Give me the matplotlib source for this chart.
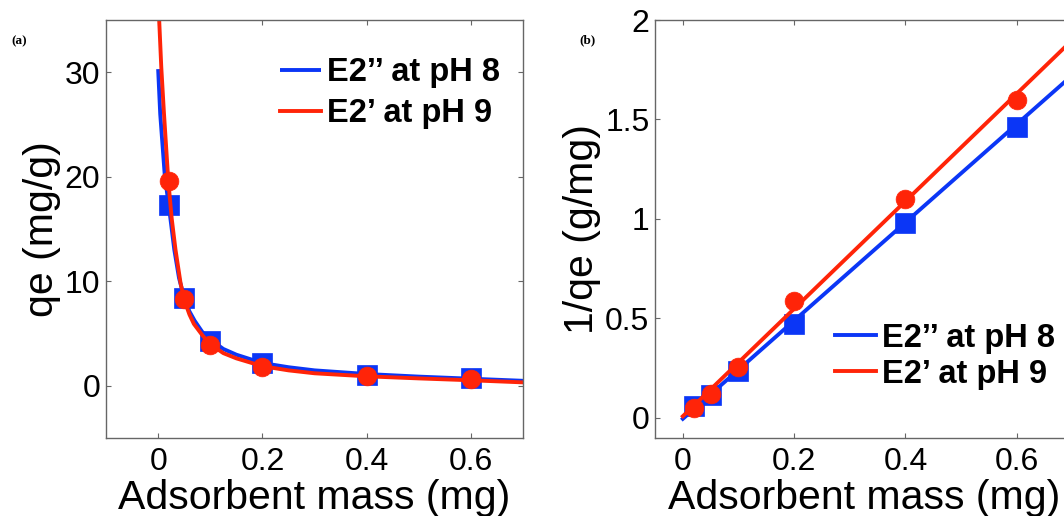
import matplotlib
matplotlib.use("Agg")
import matplotlib.pyplot as plt

# adsorbent mass of each run (mg)
mass = [0.02, 0.05, 0.1, 0.2, 0.4, 0.6]

# equilibrium uptake qe (mg/g)
qe_ph8 = [17.3, 8.4, 4.3, 2.15, 1.02, 0.68]
qe_ph9 = [19.6, 8.25, 3.9, 1.75, 0.91, 0.62]

# linearised form 1/qe (g/mg)
inv_ph8 = [0.059, 0.117, 0.234, 0.473, 0.98, 1.463]
inv_ph9 = [0.050, 0.120, 0.256, 0.585, 1.099, 1.597]

# fitted uptake curves, panel (a)
curve8_m = [0.0, 0.004, 0.0129, 0.02, 0.031, 0.04, 0.05, 0.06, 0.07, 0.085, 0.1, 0.125,
            0.15, 0.2, 0.25, 0.3, 0.4, 0.5, 0.6, 0.7]
curve8_q = [30.3, 26.0, 20.0, 17.4, 13.0, 10.3, 8.4, 7.1, 6.2, 5.1, 4.4, 3.5,
            2.95, 2.15, 1.75, 1.45, 1.1, 0.85, 0.65, 0.45]
curve9_m = [0.0, 0.002, 0.006, 0.011, 0.0195, 0.026, 0.0333, 0.043, 0.05, 0.06, 0.0685,
            0.085, 0.1, 0.125, 0.15, 0.2, 0.25, 0.3, 0.4, 0.5, 0.6, 0.7]
curve9_q = [37.5, 35.0, 30.5, 26.2, 19.6, 16.0, 13.0, 9.8, 8.2, 6.8, 5.9,
            4.8, 3.95, 3.1, 2.6, 1.85, 1.45, 1.17, 0.88, 0.68, 0.5, 0.3]

# linear fits, panel (b)
fit_m = [0.0, 0.7]
fit_ph8 = [-0.005, 1.723]
fit_ph9 = [0.008, 1.90]

labels = ["E2\u2019\u2019 at pH 8", "E2\u2019 at pH 9"]
blue = "#0B36F6"
red = "#FF2408"

plt.rcParams["font.family"] = ["Liberation Sans", "DejaVu Sans"]

fig = plt.figure(figsize=(10.64, 5.16), dpi=100)
ax1 = fig.add_axes([0.0996, 0.1517, 0.3922, 0.8095])
ax2 = fig.add_axes([0.6156, 0.1517, 0.3923, 0.8095])


def style_axes(ax):
    for sp in ax.spines.values():
        sp.set_color("#666666")
        sp.set_linewidth(1.0)
    ax.tick_params(direction="in", top=True, right=True, length=3.5, width=0.8,
                   color="#666666", labelsize=23, labelcolor="black")
    ax.tick_params(axis="x", pad=7)
    ax.tick_params(axis="y", pad=4)


lw = 2.8
legend_font = {"weight": "bold", "size": 23.5}

# panel (a): qe against mass
ax1.plot(curve8_m, curve8_q, color=blue, lw=lw, label=labels[0], solid_capstyle="butt")
ax1.plot(mass, qe_ph8, "s", color=blue, ms=15, mec=blue, mew=0.5)
ax1.plot(curve9_m, curve9_q, color=red, lw=lw, label=labels[1])
ax1.plot(mass, qe_ph9, "o", color=red, ms=13.5, mec=red, mew=0.5)
ax1.set_xlim(-0.1, 0.7)
ax1.set_ylim(-5, 35)
ax1.set_xticks([0, 0.2, 0.4, 0.6])
ax1.set_xticklabels(["0", "0.2", "0.4", "0.6"])
ax1.set_yticks([0, 10, 20, 30])
ax1.set_xlabel("Adsorbent mass (mg)", fontsize=29.5, labelpad=1)
ax1.set_ylabel("qe (mg/g)", fontsize=29.5, labelpad=3)
style_axes(ax1)
ax1.legend(loc="upper right", bbox_to_anchor=(1.0, 0.965), frameon=False,
           prop=legend_font, handlelength=1.25, handletextpad=0.2,
           labelspacing=0.3, borderaxespad=0.3)

# panel (b): 1/qe against mass
ax2.plot(fit_m, fit_ph8, color=blue, lw=lw, label=labels[0])
ax2.plot(mass, inv_ph8, "s", color=blue, ms=15, mec=blue, mew=0.5)
ax2.plot(fit_m, fit_ph9, color=red, lw=lw, label=labels[1])
ax2.plot(mass, inv_ph9, "o", color=red, ms=13.5, mec=red, mew=0.5)
ax2.set_xlim(-0.05, 0.7)
ax2.set_ylim(-0.1, 2)
ax2.set_xticks([0, 0.2, 0.4, 0.6])
ax2.set_xticklabels(["0", "0.2", "0.4", "0.6"])
ax2.set_yticks([0, 0.5, 1, 1.5, 2])
ax2.set_yticklabels(["0", "0.5", "1", "1.5", "2"])
ax2.set_xlabel("Adsorbent mass (mg)", fontsize=29.5, labelpad=1)
ax2.set_ylabel("1/qe (g/mg)", fontsize=29.5, labelpad=3)
style_axes(ax2)
ax2.legend(loc="lower right", bbox_to_anchor=(1.014, 0.06), frameon=False,
           prop=legend_font, handlelength=1.25, handletextpad=0.2,
           labelspacing=0.15, borderaxespad=0.3)

fig.text(0.0178, 1 - 41 / 516, "(a)", family=["Liberation Serif", "DejaVu Serif"],
         weight="bold", fontsize=9.5, ha="center", va="center")
fig.text(0.5517, 1 - 40 / 516, "(b)", family=["Liberation Serif", "DejaVu Serif"],
         weight="bold", fontsize=9.5, ha="center", va="center")

fig.savefig("out.png", dpi=100, facecolor="white")
plt.close(fig)
